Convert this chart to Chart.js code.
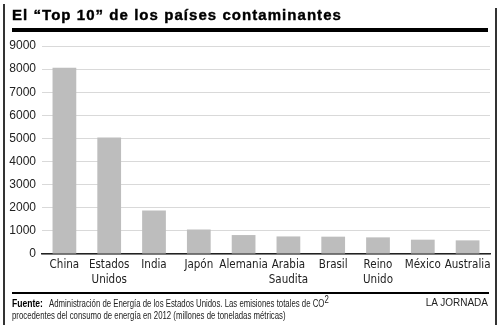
<!DOCTYPE html>
<html>
<head>
<meta charset="utf-8">
<script src="https://cdn.jsdelivr.net/npm/chart.js@4/dist/chart.umd.min.js"></script>
<style>
  html, body { margin:0; padding:0; background:#fff; }
  #wrap { position:relative; width:500px; height:325px; overflow:hidden; background:#fff; }
  #c { position:absolute; left:0; top:0; }
  .vl { position:absolute; background:#333; width:1.5px; }
  .hl { position:absolute; background:#000; }
  #title { position:absolute; left:12px; top:5px; font-family:"Liberation Sans", Arial, sans-serif; font-weight:900; font-size:15px; letter-spacing:1.05px; -webkit-text-stroke:0.4px #000; color:#000; white-space:nowrap; line-height:20px; }
  .foot { position:absolute; font-family:"Liberation Sans", Arial, sans-serif; font-size:10px; color:#222; white-space:nowrap; line-height:12px; transform:scaleX(0.78); transform-origin:0 0; }
  .foot b { font-size:11px; color:#000; }
  #brand { position:absolute; right:12px; top:297px; font-family:"Liberation Sans", Arial, sans-serif; font-size:10px; color:#222; line-height:12px; }
</style>
</head>
<body>
<div id="wrap">
  <canvas id="c" width="500" height="325"></canvas>
  <div class="vl" style="left:3px; top:4px; height:321px;"></div>
  <div class="vl" style="left:495px; top:8px; height:317px;"></div>
  <div id="title">El “Top 10” de los países contaminantes</div>
  <div class="hl" style="left:12px; top:28px; width:476px; height:4px;"></div>
  <div class="hl" style="left:12px; top:292px; width:477px; height:2px;"></div>
  <div class="foot" style="left:12px; top:297px;"><b>Fuente:</b>&nbsp;&nbsp; Administración de Energía de los Estados Unidos. Las emisiones totales de CO<sup style="font-size:10px; vertical-align:4px; line-height:0;">2</sup></div>
  <div class="foot" style="left:12px; top:310px;">procedentes del consumo de energía en 2012 (millones de toneladas métricas)</div>
  <div id="brand">LA JORNADA</div>
</div>
<script>
const categories = ["China", ["Estados", "Unidos"], "India", "Japón", "Alemania", ["Arabia", "Saudita"], "Brasil", ["Reino", "Unido"], "México", "Australia"];
const emissions = [8060, 5040, 1880, 1060, 820, 760, 750, 720, 620, 590];
const yTicks = [0, 1000, 2000, 3000, 4000, 5000, 6000, 7000, 8000, 9000];

new Chart(document.getElementById('c'), {
  type: 'bar',
  data: {
    labels: categories,
    datasets: [{
      data: emissions,
      backgroundColor: '#bdbdbd',
      borderWidth: 0,
      barPercentage: 0.53,
      categoryPercentage: 1
    }]
  },
  options: {
    responsive: false,
    animation: false,
    devicePixelRatio: 1,
    layout: { padding: { top: 46, right: 10, left: 0, bottom: 0 } },
    plugins: { legend: { display: false }, tooltip: { enabled: false } },
    scales: {
      x: {
        grid: { display: false, drawTicks: false },
        border: { display: true, color: '#222', width: 1.5 },
        ticks: {
          color: '#222',
          font: { family: '"DejaVu Sans Condensed","Liberation Sans",sans-serif', size: 11.5, lineHeight: 1.25 },
          padding: 4,
          maxRotation: 0,
          autoSkip: false
        },
        afterFit: s => { s.height = 71; }
      },
      y: {
        min: 0,
        max: 9000,
        afterBuildTicks: s => { s.ticks = yTicks.map(v => ({ value: v })); },
        grid: { color: '#d9d9d9', lineWidth: 1, drawTicks: false },
        border: { display: false },
        ticks: {
          color: '#222',
          font: { family: '"Liberation Sans",Arial,sans-serif', size: 12 },
          padding: 6,
          callback: v => String(v)
        },
        afterFit: s => { s.width = 42; }
      }
    }
  }
});
</script>
</body>
</html>
